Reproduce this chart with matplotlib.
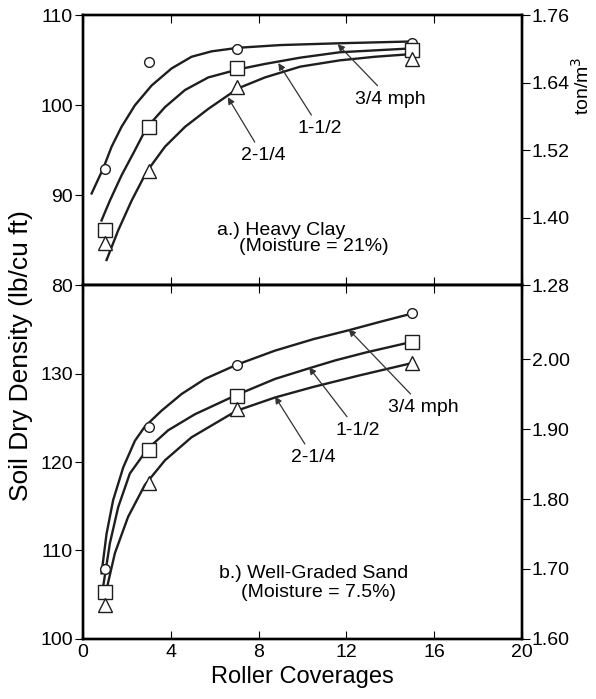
import numpy as np
import matplotlib.pyplot as plt

plt.rcParams['font.family'] = ['Liberation Sans', 'DejaVu Sans']

# marker data: roller coverages and densities (lb/cu ft)
cov = [1, 3, 7, 15]
clay_34 = [92.9, 104.8, 106.3, 106.9]
clay_112 = [86.1, 97.6, 104.1, 106.1]
clay_214 = [84.7, 92.7, 102.0, 105.2]
sand_34 = [107.9, 124.0, 131.0, 136.8]
sand_112 = [105.3, 121.4, 127.5, 133.6]
sand_214 = [103.8, 117.6, 126.0, 131.2]

# fitted curves
clay_34_cx = [0.40, 0.93, 1.31, 1.76, 2.37, 3.13, 4.04, 4.95, 5.86, 7.08, 9.0, 11.7, 15.0]
clay_34_cy = [90.2, 93.0, 95.4, 97.6, 100.0, 102.2, 104.1, 105.4, 106.0, 106.4, 106.7, 106.9, 107.1]
clay_112_cx = [0.85, 1.23, 1.76, 2.37, 2.9, 3.74, 4.65, 5.71, 7.08, 8.29, 9.9, 11.7, 14.75, 15.0]
clay_112_cy = [87.2, 89.4, 92.2, 95.0, 97.5, 99.8, 101.7, 103.1, 104.0, 104.6, 105.3, 105.9, 106.3, 106.3]
clay_214_cx = [1.08, 1.61, 2.22, 2.9, 3.74, 4.65, 5.71, 7.08, 8.29, 9.9, 11.7, 13.3, 15.0]
clay_214_cy = [82.8, 86.1, 89.4, 92.6, 95.4, 97.6, 99.6, 101.9, 103.1, 104.3, 105.0, 105.4, 105.7]

sand_34_cx = [0.85, 1.08, 1.38, 1.84, 2.37, 2.82, 3.58, 4.5, 5.56, 7.0, 8.75, 10.5, 12.1, 13.6, 15.0]
sand_34_cy = [107.4, 111.9, 115.7, 119.4, 122.4, 124.0, 125.8, 127.7, 129.4, 131.0, 132.6, 133.9, 134.9, 135.9, 136.8]
sand_112_cx = [0.93, 1.23, 1.61, 2.14, 2.95, 3.89, 5.1, 6.92, 8.75, 10.3, 11.5, 12.9, 15.0]
sand_112_cy = [106.0, 110.8, 114.9, 118.7, 121.5, 123.6, 125.4, 127.5, 129.4, 130.6, 131.5, 132.4, 133.6]
sand_214_cx = [1.08, 1.46, 2.06, 2.82, 3.74, 4.95, 7.0, 8.75, 10.5, 12.6, 15.0]
sand_214_cy = [105.6, 109.7, 113.8, 117.4, 120.2, 122.8, 125.8, 127.3, 128.5, 129.8, 131.2]

x_ticks = [0, 4, 8, 12, 16, 20]
clay_ticks = [80, 90, 100, 110]
sand_ticks = [100, 110, 120, 130]
clay_rticks = [1.28, 1.40, 1.52, 1.64, 1.76]
sand_rticks = [1.60, 1.70, 1.80, 1.90, 2.00]

fig = plt.figure(figsize=(5.96, 6.99), dpi=100)
ax1 = fig.add_axes([0.139, 0.592, 0.737, 0.386])
ax2 = fig.add_axes([0.139, 0.086, 0.737, 0.506])

fs = 14
afs = 14
lw = 1.7
ink = '#1e1e1e'
mk = dict(color=ink, mfc='white', mew=1.0, ls='none')


def style(ax, yt, ylim):
    ax.set_xlim(0, 20)
    ax.set_ylim(*ylim)
    ax.set_xticks(x_ticks)
    ax.set_yticks(yt)
    ax.tick_params(axis='x', direction='in', top=True, length=6, labelsize=fs)
    ax.tick_params(axis='y', direction='out', length=6, labelsize=fs, pad=1)
    for s in ax.spines.values():
        s.set_linewidth(1.7)


style(ax1, clay_ticks, (80, 110))
ax1.tick_params(axis='x', labelbottom=False)
style(ax2, sand_ticks, (100, 140))

# top panel
for cx, cy in [(clay_34_cx, clay_34_cy), (clay_112_cx, clay_112_cy), (clay_214_cx, clay_214_cy)]:
    ax1.plot(cx, cy, color=ink, lw=lw, solid_joinstyle='round')
ax1.plot(cov, clay_34, marker='o', ms=7, **mk)
ax1.plot(cov, clay_112, marker='s', ms=10, **mk)
ax1.plot(cov, clay_214, marker='^', ms=10, **mk)

ap = dict(arrowstyle='-|>', color='#333333', lw=0.9, mutation_scale=10, shrinkA=2, shrinkB=0)
ax1.annotate('3/4 mph', xy=(11.6, 106.8), xytext=(14.0, 100.7), fontsize=afs,
             ha='center', va='center', arrowprops=ap)
ax1.annotate('1-1/2', xy=(8.9, 104.7), xytext=(10.8, 97.4), fontsize=afs,
             ha='center', va='center', arrowprops=ap)
ax1.annotate('2-1/4', xy=(6.6, 100.9), xytext=(8.2, 94.4), fontsize=afs,
             ha='center', va='center', arrowprops=ap)
ax1.text(6.1, 86.1, 'a.) Heavy Clay', fontsize=afs, va='center')
ax1.text(7.1, 84.3, '(Moisture = 21%)', fontsize=afs, va='center')

# bottom panel
for cx, cy in [(sand_34_cx, sand_34_cy), (sand_112_cx, sand_112_cy), (sand_214_cx, sand_214_cy)]:
    ax2.plot(cx, cy, color=ink, lw=lw, solid_joinstyle='round')
ax2.plot(cov, sand_34, marker='o', ms=7, **mk)
ax2.plot(cov, sand_112, marker='s', ms=10, **mk)
ax2.plot(cov, sand_214, marker='^', ms=10, **mk)

ax2.annotate('3/4 mph', xy=(12.1, 135.0), xytext=(15.5, 126.2), fontsize=afs,
             ha='center', va='center', arrowprops=ap)
ax2.annotate('1-1/2', xy=(10.3, 130.7), xytext=(12.5, 123.6), fontsize=afs,
             ha='center', va='center', arrowprops=ap)
ax2.annotate('2-1/4', xy=(8.75, 127.4), xytext=(10.5, 120.5), fontsize=afs,
             ha='center', va='center', arrowprops=ap)
ax2.text(6.2, 107.4, 'b.) Well-Graded Sand', fontsize=afs, va='center')
ax2.text(7.2, 105.3, '(Moisture = 7.5%)', fontsize=afs, va='center')

ax2.set_xlabel('Roller Coverages', fontsize=17, labelpad=4)
fig.text(0.035, 0.492, 'Soil Dry Density (lb/cu ft)', rotation=90, fontsize=19,
         ha='center', va='center')

# right-hand metric scales
r1 = ax1.twinx()
r1.set_ylim(1.28, 1.76)
r1.set_yticks(clay_rticks)
r1.set_yticklabels(['%.2f' % v for v in clay_rticks])
r1.tick_params(axis='y', direction='out', length=6, labelsize=fs, pad=1)
r1.set_ylabel('ton/m$^3$', fontsize=fs)
r1.yaxis.set_label_coords(1.11, 0.74)

r2 = ax2.twinx()
r2.set_ylim(1.60, 2.106)
r2.set_yticks(sand_rticks)
r2.set_yticklabels(['%.2f' % v for v in sand_rticks])
r2.tick_params(axis='y', direction='out', length=6, labelsize=fs, pad=1)
for r in (r1, r2):
    for s in r.spines.values():
        s.set_linewidth(1.7)

fig.savefig('out.png', dpi=100, facecolor='white')
